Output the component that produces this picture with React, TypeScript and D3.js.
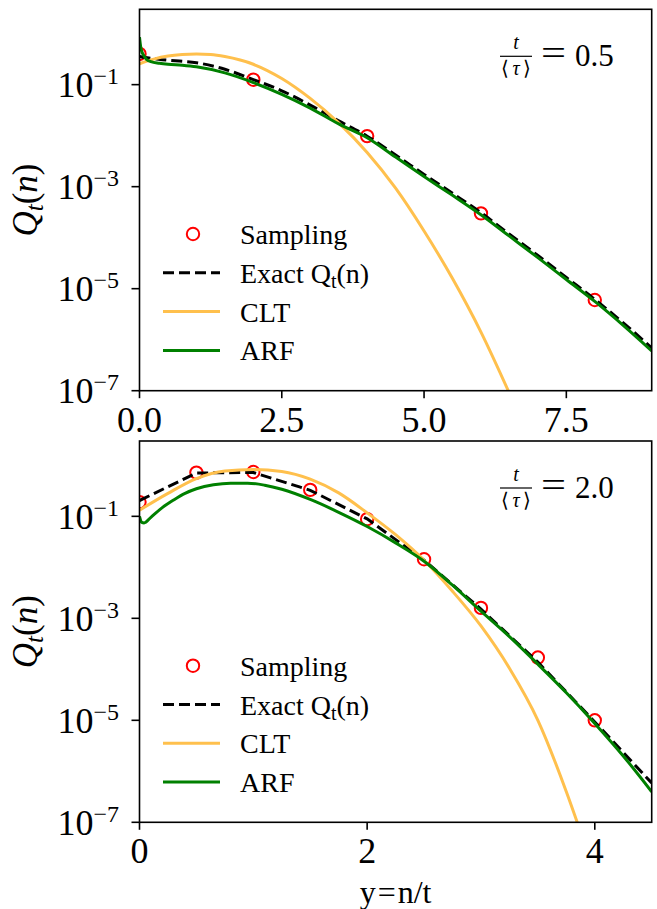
import React from 'react';
import * as d3 from 'd3';

// ---------- Panel A: t/<tau> = 0.5 ----------
const aSampleX = [0, 2, 4, 6, 8];
const aSampleY = [0.40, 0.125, 0.0098, 3.0e-4, 6.0e-6];

const aExactX = [0, 0.1, 0.25, 0.5, 0.75, 1, 1.5, 2, 2.5, 3, 3.5, 4, 4.5, 5, 5.5, 6, 6.5, 7, 7.5, 8, 8.5, 9];
const aExactY = [0.355, 0.339, 0.324, 0.302, 0.288, 0.269, 0.200, 0.126, 0.0759, 0.0398, 0.0195, 0.00977, 0.00417, 0.00174, 7.41e-4, 3.09e-4, 1.17e-4, 4.47e-5, 1.66e-5, 6.17e-6, 2.14e-6, 6.9e-7];

const aCltX = [0, 0.25, 0.5, 0.75, 1, 1.25, 1.5, 2, 2.5, 3, 3.5, 4, 4.5, 5, 5.5, 6, 6.5];
const aCltY = [0.257, 0.316, 0.363, 0.389, 0.398, 0.389, 0.355, 0.251, 0.132, 0.0537, 0.0178, 0.00468, 9.33e-4, 1.35e-4, 1.58e-5, 1.41e-6, 8.9e-8];

const aArfX = [0, 0.02, 0.04, 0.07, 0.12, 0.2, 0.35, 0.5, 0.75, 1, 1.5, 2, 2.5, 3, 3.5, 4, 4.5, 5, 5.5, 6, 6.5, 7, 7.5, 8, 8.5, 9];
const aArfY = [0.851, 0.562, 0.447, 0.380, 0.316, 0.282, 0.263, 0.251, 0.240, 0.224, 0.170, 0.110, 0.0646, 0.0347, 0.0170, 0.00912, 0.00380, 0.00158, 6.76e-4, 2.82e-4, 1.07e-4, 4.07e-5, 1.51e-5, 5.62e-6, 1.91e-6, 6.03e-7];

// ---------- Panel B: t/<tau> = 2.0 ----------
const bSampleX = [0, 0.5, 1, 1.5, 2, 2.5, 3, 3.5, 4];
const bSampleY = [0.19, 0.72, 0.74, 0.33, 0.088, 0.0144, 1.6e-3, 1.7e-4, 1.0e-5];

const bExactX = [0, 0.5, 1, 1.5, 2, 2.5, 3, 3.5, 4, 4.5];
const bExactY = [0.204, 0.708, 0.724, 0.324, 0.0891, 0.0138, 1.51e-3, 1.38e-4, 9.3e-6, 5.9e-7];

const bCltX = [0, 0.25, 0.5, 0.75, 1, 1.25, 1.5, 1.75, 2, 2.25, 2.5, 2.75, 3, 3.25, 3.5, 3.75, 3.9];
const bCltY = [0.132, 0.282, 0.550, 0.776, 0.832, 0.759, 0.537, 0.288, 0.117, 0.0437, 0.0138, 3.39e-3, 7.08e-4, 1.05e-4, 1.0e-5, 3.98e-7, 4.47e-8];

const bArfX = [0, 0.02, 0.04, 0.1, 0.2, 0.3, 0.4, 0.5, 0.65, 0.8, 0.95, 1.1, 1.25, 1.5, 1.75, 2, 2.25, 2.5, 2.75, 3, 3.25, 3.5, 3.75, 4, 4.25, 4.5];
const bArfY = [0.1, 0.0759, 0.0741, 0.0955, 0.148, 0.209, 0.282, 0.347, 0.417, 0.447, 0.447, 0.407, 0.339, 0.214, 0.120, 0.0631, 0.0302, 0.0132, 4.47e-3, 1.38e-3, 4.37e-4, 1.26e-4, 3.47e-5, 8.7e-6, 2.0e-6, 3.98e-7];

// ---------- Axes ----------
const yTickValues = [1e-7, 1e-5, 1e-3, 1e-1];
const yTickExps = ['\u22127', '\u22125', '\u22123', '\u22121'];
const aXTicks = [0, 2.5, 5, 7.5];
const aXTickLabels = ['0.0', '2.5', '5.0', '7.5'];
const bXTicks = [0, 2, 4];
const bXTickLabels = ['0', '2', '4'];
const legendLabels = ['Sampling', 'Exact', 'CLT', 'ARF'];

const SERIF = '"Liberation Serif", "Times New Roman", serif';
const ORANGE = '#FFC04D';
const GREEN = '#008000';

type PanelProps = {
  id: string;
  top: number;
  bottom: number;
  xMax: number;
  xTicks: number[];
  xTickLabels: string[];
  sampleX: number[]; sampleY: number[];
  exactX: number[]; exactY: number[];
  cltX: number[]; cltY: number[];
  arfX: number[]; arfY: number[];
  exactLinear: boolean;
  ratio: string;
};

function Panel(p: PanelProps) {
  const left = 139.5, right = 651.7;
  const x = d3.scaleLinear().domain([0, p.xMax]).range([left, right]);
  const y = d3.scaleLog().domain([1e-7, 3.0]).range([p.bottom, p.top]);
  const mk = (xs: number[], ys: number[], linear: boolean) =>
    d3.line<number>()
      .x((_, i) => x(xs[i]))
      .y((v) => y(v))
      .curve(linear ? d3.curveLinear : d3.curveMonotoneX)(ys) || '';
  const midY = (p.top + p.bottom) / 2;
  const lgTop = p.top + 224.7;
  const lgStep = 38.8;
  const annB = p.top + 56.5;
  return (
    <g>
      <defs>
        <clipPath id={`clip-${p.id}`}>
          <rect x={left} y={p.top} width={right - left} height={p.bottom - p.top} />
        </clipPath>
      </defs>
      <g clipPath={`url(#clip-${p.id})`}>
        {p.sampleX.map((sx, i) => (
          <circle key={i} cx={x(sx)} cy={y(p.sampleY[i])} r={6.2} fill="none" stroke="red" strokeWidth={2} />
        ))}
        <path d={mk(p.exactX, p.exactY, p.exactLinear)} fill="none" stroke="black" strokeWidth={3} strokeDasharray="11,5" />
        <path d={mk(p.cltX, p.cltY, false)} fill="none" stroke={ORANGE} strokeWidth={3} />
        <path d={mk(p.arfX, p.arfY, false)} fill="none" stroke={GREEN} strokeWidth={3} />
      </g>
      {/* frame */}
      <rect x={left} y={p.top} width={right - left} height={p.bottom - p.top} fill="none" stroke="black" strokeWidth={1.6} />
      {/* y ticks */}
      {yTickValues.map((v, i) => (
        <g key={i}>
          <line x1={left - 8} x2={left} y1={y(v)} y2={y(v)} stroke="black" strokeWidth={1.6} />
          <text x={119} y={y(v) + 12.5} textAnchor="end" fontFamily={SERIF} fontSize={36}>
            <tspan>10</tspan>
            <tspan dy={-13} fontSize={24}>{yTickExps[i]}</tspan>
          </text>
        </g>
      ))}
      {/* x ticks */}
      {p.xTicks.map((v, i) => (
        <g key={i}>
          <line x1={x(v)} x2={x(v)} y1={p.bottom} y2={p.bottom + 7.5} stroke="black" strokeWidth={1.6} />
          <text x={x(v)} y={p.bottom + 41} textAnchor="middle" fontFamily={SERIF} fontSize={36}>{p.xTickLabels[i]}</text>
        </g>
      ))}
      {/* y label */}
      <text transform={`translate(37,${midY}) rotate(-90)`} textAnchor="middle" fontFamily={SERIF} fontSize={35} fontStyle="italic">
        <tspan>Q</tspan>
        <tspan dy={6} fontSize={25}>t</tspan>
        <tspan dy={-6} fontStyle="normal">(</tspan>
        <tspan>n</tspan>
        <tspan fontStyle="normal">)</tspan>
      </text>
      {/* legend */}
      <circle cx={193} cy={lgTop} r={6.2} fill="none" stroke="red" strokeWidth={2} />
      <line x1={163} x2={220} y1={lgTop + lgStep} y2={lgTop + lgStep} stroke="black" strokeWidth={3} strokeDasharray="11,5" />
      <line x1={163} x2={220} y1={lgTop + 2 * lgStep} y2={lgTop + 2 * lgStep} stroke={ORANGE} strokeWidth={3} />
      <line x1={163} x2={220} y1={lgTop + 3 * lgStep} y2={lgTop + 3 * lgStep} stroke={GREEN} strokeWidth={3} />
      <text x={240} y={lgTop + 10} fontFamily={SERIF} fontSize={28}>{legendLabels[0]}</text>
      <text x={240} y={lgTop + lgStep + 10} fontFamily={SERIF} fontSize={28}>
        <tspan>{legendLabels[1]} Q</tspan>
        <tspan dy={5} fontSize={20}>t</tspan>
        <tspan dy={-5}>(n)</tspan>
      </text>
      <text x={240} y={lgTop + 2 * lgStep + 10} fontFamily={SERIF} fontSize={28}>{legendLabels[2]}</text>
      <text x={240} y={lgTop + 3 * lgStep + 10} fontFamily={SERIF} fontSize={28}>{legendLabels[3]}</text>
      {/* annotation */}
      <text x={516} y={annB - 17} textAnchor="middle" fontFamily={SERIF} fontSize={20} fontStyle="italic">t</text>
      <line x1={500} x2={532} y1={annB - 9.5} y2={annB - 9.5} stroke="black" strokeWidth={1.2} />
      <text x={516} y={annB + 9} textAnchor="middle" fontFamily={SERIF} fontSize={20} textLength={30} lengthAdjust="spacing">
        <tspan>{'\u27E8'}</tspan>
        <tspan fontStyle="italic">{'\u03C4'}</tspan>
        <tspan>{'\u27E9'}</tspan>
      </text>
      <text x={541} y={annB - 1} fontFamily={SERIF} fontSize={36} textLength={25} lengthAdjust="spacingAndGlyphs">=</text>
      <text x={575} y={annB} fontFamily={SERIF} fontSize={31}>{p.ratio}</text>
    </g>
  );
}

export default function App() {
  return (
    <div style={{ position: 'absolute', left: 0, top: 0 }}>
      <svg width={657} height={909} viewBox="0 0 657 909" style={{ display: 'block', background: 'white' }}>
        <rect x={0} y={0} width={657} height={909} fill="white" />
        <Panel id="a" top={9.3} bottom={390.7} xMax={9} xTicks={aXTicks} xTickLabels={aXTickLabels}
          sampleX={aSampleX} sampleY={aSampleY} exactX={aExactX} exactY={aExactY}
          cltX={aCltX} cltY={aCltY} arfX={aArfX} arfY={aArfY} exactLinear={false} ratio="0.5" />
        <Panel id="b" top={441} bottom={822.3} xMax={4.5} xTicks={bXTicks} xTickLabels={bXTickLabels}
          sampleX={bSampleX} sampleY={bSampleY} exactX={bExactX} exactY={bExactY}
          cltX={bCltX} cltY={bCltY} arfX={bArfX} arfY={bArfY} exactLinear={true} ratio="2.0" />
        <text x={395.6} y={903} textAnchor="middle" fontFamily={SERIF} fontSize={32}>
          <tspan>y</tspan>
          <tspan dx={2}>=</tspan>
          <tspan dx={2}>n/t</tspan>
        </text>
      </svg>
    </div>
  );
}
